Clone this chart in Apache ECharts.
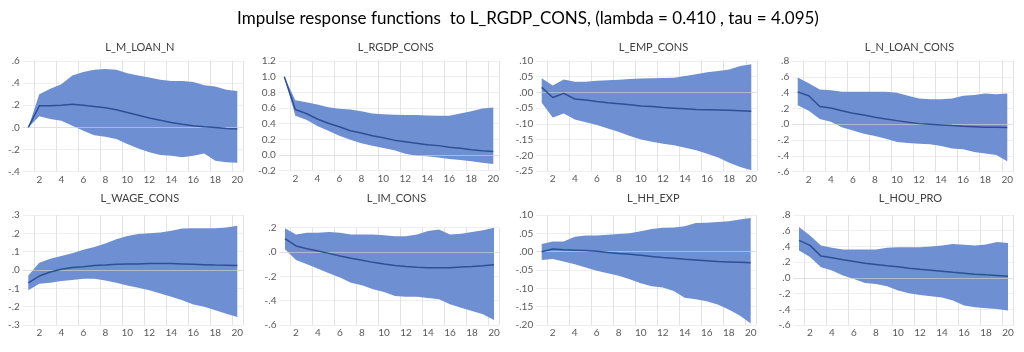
<!DOCTYPE html>
<html>
<head>
<meta charset="utf-8">
<script src="https://cdn.jsdelivr.net/npm/echarts@6/dist/echarts.min.js"></script>
<style>
  html, body { margin: 0; padding: 0; background: #fff; }
  #chart { width: 1024px; height: 352px; }
</style>
</head>
<body>
<div id="chart"></div>
<script>
// 期数 1..20
const periods = ['1', '2', '3', '4', '5', '6', '7', '8', '9', '10', '11', '12', '13', '14', '15', '16', '17', '18', '19', '20'];

const panelNames = ['L_M_LOAN_N', 'L_RGDP_CONS', 'L_EMP_CONS', 'L_N_LOAN_CONS', 'L_WAGE_CONS', 'L_IM_CONS', 'L_HH_EXP', 'L_HOU_PRO'];

// 脉冲响应 (中线) + 上下界
const respMLoan = [0, 0.195, 0.195, 0.2, 0.21, 0.2, 0.19, 0.178, 0.16, 0.135, 0.11, 0.085, 0.065, 0.045, 0.028, 0.015, 0.005, 0, -0.01, -0.015];
const upMLoan = [0, 0.30, 0.35, 0.39, 0.47, 0.50, 0.52, 0.527, 0.52, 0.49, 0.47, 0.45, 0.43, 0.42, 0.42, 0.41, 0.38, 0.37, 0.34, 0.33];
const lowMLoan = [0, 0.10, 0.075, 0.06, 0.015, -0.03, -0.07, -0.085, -0.105, -0.15, -0.19, -0.225, -0.25, -0.255, -0.27, -0.255, -0.235, -0.30, -0.315, -0.32];

const respRgdp = [1.0, 0.58, 0.53, 0.46, 0.405, 0.36, 0.31, 0.28, 0.245, 0.22, 0.19, 0.17, 0.15, 0.13, 0.12, 0.10, 0.085, 0.068, 0.055, 0.045];
const upRgdp = [1.0, 0.70, 0.675, 0.645, 0.61, 0.59, 0.58, 0.56, 0.53, 0.52, 0.515, 0.51, 0.51, 0.505, 0.50, 0.50, 0.53, 0.56, 0.595, 0.605];
const lowRgdp = [1.0, 0.50, 0.45, 0.37, 0.31, 0.245, 0.195, 0.15, 0.12, 0.09, 0.06, 0.015, -0.01, -0.017, -0.03, -0.05, -0.063, -0.08, -0.10, -0.115];

const respEmp = [0.016, -0.016, -0.003, -0.021, -0.024, -0.029, -0.033, -0.036, -0.039, -0.043, -0.045, -0.048, -0.05, -0.052, -0.054, -0.055, -0.056, -0.057, -0.058, -0.06];
const upEmp = [0.045, 0.022, 0.041, 0.034, 0.034, 0.037, 0.039, 0.04, 0.043, 0.044, 0.045, 0.046, 0.047, 0.052, 0.058, 0.064, 0.068, 0.073, 0.084, 0.09];
const lowEmp = [-0.033, -0.08, -0.067, -0.086, -0.095, -0.104, -0.115, -0.126, -0.139, -0.15, -0.157, -0.163, -0.168, -0.176, -0.184, -0.195, -0.207, -0.224, -0.237, -0.248];

const respNLoan = [0.41, 0.36, 0.225, 0.205, 0.17, 0.14, 0.117, 0.09, 0.067, 0.046, 0.025, 0.008, 0, -0.008, -0.017, -0.025, -0.03, -0.037, -0.038, -0.04];
const upNLoan = [0.59, 0.52, 0.44, 0.43, 0.41, 0.41, 0.41, 0.41, 0.41, 0.40, 0.36, 0.325, 0.317, 0.317, 0.325, 0.36, 0.37, 0.39, 0.38, 0.39];
const lowNLoan = [0.24, 0.17, 0.067, 0.033, -0.037, -0.08, -0.12, -0.15, -0.183, -0.225, -0.238, -0.245, -0.254, -0.275, -0.308, -0.317, -0.35, -0.37, -0.39, -0.467];

const respWage = [-0.07, -0.033, -0.011, 0.004, 0.013, 0.018, 0.024, 0.027, 0.031, 0.033, 0.033, 0.035, 0.035, 0.035, 0.033, 0.031, 0.029, 0.027, 0.026, 0.024];
const upWage = [-0.03, 0.04, 0.062, 0.077, 0.091, 0.11, 0.126, 0.144, 0.168, 0.186, 0.196, 0.20, 0.205, 0.214, 0.227, 0.228, 0.228, 0.228, 0.232, 0.241];
const lowWage = [-0.111, -0.075, -0.07, -0.06, -0.055, -0.048, -0.048, -0.057, -0.07, -0.084, -0.097, -0.111, -0.128, -0.146, -0.165, -0.188, -0.20, -0.22, -0.238, -0.256];

const respIm = [0.11, 0.05, 0.027, 0.008, -0.011, -0.033, -0.052, -0.068, -0.085, -0.099, -0.11, -0.12, -0.126, -0.129, -0.129, -0.129, -0.123, -0.118, -0.112, -0.104];
const upIm = [0.195, 0.145, 0.159, 0.159, 0.164, 0.159, 0.145, 0.145, 0.145, 0.137, 0.13, 0.13, 0.145, 0.173, 0.186, 0.145, 0.15, 0.164, 0.18, 0.20];
const lowIm = [0.022, -0.066, -0.10, -0.137, -0.175, -0.21, -0.252, -0.274, -0.307, -0.329, -0.362, -0.367, -0.367, -0.378, -0.389, -0.43, -0.458, -0.485, -0.512, -0.559];

const respHh = [0.0, 0.007, 0.005, 0.004, 0.003, 0.001, -0.002, -0.005, -0.007, -0.01, -0.013, -0.016, -0.018, -0.021, -0.023, -0.025, -0.027, -0.028, -0.029, -0.03];
const upHh = [0.021, 0.028, 0.028, 0.041, 0.044, 0.044, 0.046, 0.048, 0.05, 0.056, 0.062, 0.065, 0.066, 0.069, 0.078, 0.079, 0.081, 0.083, 0.088, 0.092];
const lowHh = [-0.023, -0.02, -0.027, -0.034, -0.043, -0.052, -0.059, -0.066, -0.075, -0.086, -0.094, -0.098, -0.107, -0.126, -0.13, -0.135, -0.144, -0.158, -0.174, -0.196];

const respHou = [0.477, 0.413, 0.277, 0.255, 0.23, 0.209, 0.187, 0.17, 0.153, 0.14, 0.123, 0.11, 0.098, 0.085, 0.072, 0.06, 0.047, 0.038, 0.03, 0.021];
const upHou = [0.647, 0.54, 0.413, 0.383, 0.362, 0.362, 0.362, 0.362, 0.383, 0.391, 0.391, 0.391, 0.40, 0.413, 0.43, 0.421, 0.413, 0.426, 0.455, 0.443];
const lowHou = [0.349, 0.264, 0.136, 0.094, 0.03, -0.013, -0.064, -0.077, -0.106, -0.162, -0.196, -0.217, -0.234, -0.251, -0.289, -0.353, -0.374, -0.387, -0.396, -0.417];

const responses = [respMLoan, respRgdp, respEmp, respNLoan, respWage, respIm, respHh, respHou];
const uppers = [upMLoan, upRgdp, upEmp, upNLoan, upWage, upIm, upHh, upHou];
const lowers = [lowMLoan, lowRgdp, lowEmp, lowNLoan, lowWage, lowIm, lowHh, lowHou];

// y轴刻度 (min / max / 间隔 / 小数位 / 是否去掉前导0)
const yMins = [-0.4, -0.2, -0.25, -0.6, -0.3, -0.6, -0.2, -0.6];
const yMaxs = [0.6, 1.2, 0.1, 0.8, 0.3, 0.2, 0.1, 0.8];
const ySteps = [0.2, 0.2, 0.05, 0.2, 0.1, 0.2, 0.05, 0.2];
const yDecimals = [1, 1, 2, 1, 1, 1, 2, 1];
const yStripZero = [true, false, true, true, true, true, true, true];

// 每个子图的绘图区 [left, top, width, height]
const grids = [
  [22.8, 61, 220, 110.7],
  [278.8, 61, 220, 109.7],
  [536.2, 61, 220.6, 110],
  [792.2, 61, 220.6, 110.7],
  [22.8, 215, 220, 110],
  [279.5, 227.7, 220, 97.3],
  [536.2, 215, 220, 110],
  [793.5, 215, 220, 110],
];

const FONT = 'Lato';
const bandColor = '#6e90d2';
const lineColor = '#2e4f96';

function fmt(i) {
  return function (v) {
    let s = Math.abs(v).toFixed(yDecimals[i]);
    if (yStripZero[i]) s = s.replace(/^0/, '');
    return (v < -1e-9 ? '-' : '') + s;
  };
}

const titles = [
  {
    text: 'Impulse response functions  to L_RGDP_CONS, (lambda = 0.410 , tau = 4.095)',
    left: 523,
    top: 5,
    textAlign: 'center',
    textStyle: { fontFamily: FONT, fontSize: 17, fontWeight: 'normal', color: '#000' },
  },
];
const gridList = [];
const xAxes = [];
const yAxes = [];
const series = [];

for (let i = 0; i < 8; i++) {
  const g = grids[i];
  titles.push({
    text: panelNames[i],
    left: g[0] + g[2] / 2 + 2,
    top: i < 4 ? 37 : 188,
    textAlign: 'center',
    textStyle: { fontFamily: FONT, fontSize: 11, fontWeight: 'normal', color: '#404040' },
  });
  gridList.push({ left: g[0], top: g[1], width: g[2], height: g[3], containLabel: false });
  xAxes.push({
    gridIndex: i,
    type: 'category',
    data: periods,
    boundaryGap: true,
    axisLine: { show: false },
    axisTick: { show: false },
    axisLabel: {
      interval: (idx) => idx % 2 === 1,
      color: '#595959',
      fontFamily: FONT,
      fontSize: 10,
      margin: 3,
    },
    splitLine: {
      show: true,
      interval: (idx) => idx % 2 === 1,
      lineStyle: { color: '#e3e3e3', width: 1 },
    },
  });
  yAxes.push({
    gridIndex: i,
    type: 'value',
    min: yMins[i],
    max: yMaxs[i],
    interval: ySteps[i],
    axisLine: { show: false },
    axisTick: { show: false },
    axisLabel: { formatter: fmt(i), color: '#595959', fontFamily: FONT, fontSize: 10, margin: 3 },
    splitLine: { show: true, lineStyle: { color: '#efefef', width: 1 } },
  });

  // 置信带: 下界 + (上界-下界) 堆叠
  const diff = uppers[i].map((u, k) => +(u - lowers[i][k]).toFixed(4));
  series.push({
    type: 'line',
    xAxisIndex: i,
    yAxisIndex: i,
    stack: 'band' + i,
    stackStrategy: 'all',
    data: lowers[i],
    symbol: 'none',
    lineStyle: { opacity: 0 },
    silent: true,
  });
  series.push({
    type: 'line',
    xAxisIndex: i,
    yAxisIndex: i,
    stack: 'band' + i,
    stackStrategy: 'all',
    data: diff,
    symbol: 'none',
    lineStyle: { opacity: 0 },
    areaStyle: { color: bandColor, opacity: 1 },
    silent: true,
    z: 2,
  });
  // 中线, 零线画在置信带上面
  series.push({
    type: 'line',
    xAxisIndex: i,
    yAxisIndex: i,
    data: responses[i],
    symbol: 'none',
    lineStyle: { color: lineColor, width: 1.5 },
    silent: true,
    z: 4,
    markLine: {
      silent: true,
      symbol: 'none',
      label: { show: false },
      lineStyle: { color: 'rgba(215,215,215,0.6)', width: 1, type: 'solid', opacity: 1 },
      data: [{ yAxis: 0 }],
      z: 3,
    },
  });
}

const option = {
  backgroundColor: '#fff',
  animation: false,
  title: titles,
  grid: gridList,
  xAxis: xAxes,
  yAxis: yAxes,
  series: series,
};

const myChart = echarts.init(document.getElementById('chart'));
myChart.setOption(option);
</script>
</body>
</html>
